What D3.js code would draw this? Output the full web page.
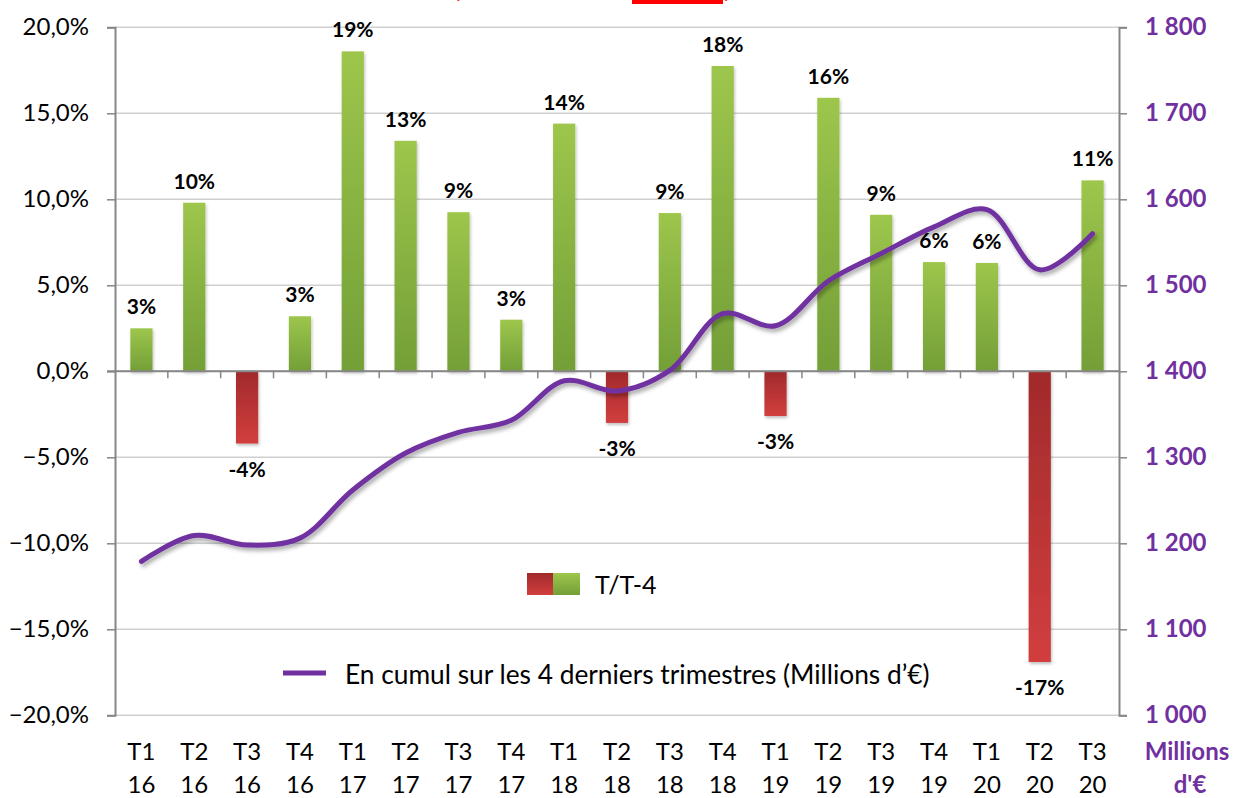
<!DOCTYPE html>
<html>
<head>
<meta charset="utf-8">
<script src="https://cdn.jsdelivr.net/npm/d3@7"></script>
<style>
  body { margin: 0; background: #fff; }
  svg text { font-family: Lato, "Open Sans", sans-serif; }
</style>
</head>
<body>
<div id="chart"></div>
<script>
// quarters (two-line labels)
var quarters = ["T1","T2","T3","T4","T1","T2","T3","T4","T1","T2","T3","T4","T1","T2","T3","T4","T1","T2","T3"];
var years    = ["16","16","16","16","17","17","17","17","18","18","18","18","19","19","19","19","20","20","20"];

// T/T-4 variation, %
var yoy = [2.5, 9.8, -4.2, 3.2, 18.6, 13.4, 9.25, 3.0, 14.4, -3.0, 9.2, 17.75, -2.6, 15.9, 9.1, 6.35, 6.3, -16.9, 11.1];

// cumul sur 4 trimestres, millions d'euros
var cumul = [1179, 1209, 1198, 1206, 1262, 1305, 1329, 1343, 1389, 1377, 1401, 1467, 1453, 1505, 1537, 1568, 1588, 1518, 1560];

var leftTicks = [-20, -15, -10, -5, 0, 5, 10, 15, 20];
var rightTicks = [1000, 1100, 1200, 1300, 1400, 1500, 1600, 1700, 1800];

var W = 1234, H = 798;
var x0 = 115, x1 = 1119, yTop = 27.3, yBot = 715.3;
var purple = "#7030A0";

var loc = d3.formatLocale({decimal: ",", thousands: "\u00a0", grouping: [3], currency: ["", "€"]});
var fmtPct = loc.format(".1f");
var fmtNum = loc.format(",d");

var svg = d3.select("#chart").append("svg")
  .attr("width", W).attr("height", H);

var defs = svg.append("defs");

var gGreen = defs.append("linearGradient").attr("id", "gGreen")
  .attr("x1", 0).attr("y1", 0).attr("x2", 0).attr("y2", 1);
gGreen.append("stop").attr("offset", "0%").attr("stop-color", "#9DC64C");
gGreen.append("stop").attr("offset", "100%").attr("stop-color", "#739F37");

var gRed = defs.append("linearGradient").attr("id", "gRed")
  .attr("x1", 0).attr("y1", 0).attr("x2", 0).attr("y2", 1);
gRed.append("stop").attr("offset", "0%").attr("stop-color", "#A12A2B");
gRed.append("stop").attr("offset", "100%").attr("stop-color", "#D23E3E");

var shLine = defs.append("filter").attr("id", "shLine")
  .attr("x", "-10%").attr("y", "-10%").attr("width", "120%").attr("height", "130%");
shLine.append("feDropShadow").attr("dx", 2).attr("dy", 3).attr("stdDeviation", 2)
  .attr("flood-color", "#000").attr("flood-opacity", 0.35);

var shBar = defs.append("filter").attr("id", "shBar")
  .attr("x", "-30%").attr("y", "-10%").attr("width", "160%").attr("height", "120%");
shBar.append("feDropShadow").attr("dx", 1).attr("dy", 2).attr("stdDeviation", 1.5)
  .attr("flood-color", "#000").attr("flood-opacity", 0.25);

// scales
var x = d3.scaleBand().domain(d3.range(quarters.length))
  .range([x0, x1]).paddingInner(0.58).paddingOuter(0.29);
var y = d3.scaleLinear().domain([-20, 20]).range([yBot, yTop]);
var y2 = d3.scaleLinear().domain([1000, 1800]).range([yBot, yTop]);
var step = x.step();
var pad = (step - x.bandwidth()) / 2;

// red title remnant at top (cut off in the source too)
svg.append("rect").attr("x", 632).attr("y", 0).attr("width", 91).attr("height", 4).attr("fill", "#FF0000");
svg.append("text").attr("x", 453).attr("y", -3).attr("font-size", 28).attr("fill", "#FF0000").text("(");
svg.append("text").attr("x", 724).attr("y", -3).attr("font-size", 28).attr("fill", "#FF0000").text(")");

// gridlines
svg.append("g").selectAll("line").data(leftTicks).join("line")
  .attr("x1", x0).attr("x2", x1)
  .attr("y1", function(d){ return y(d); }).attr("y2", function(d){ return y(d); })
  .attr("stroke", "#D0D0D0").attr("stroke-width", 1.5);

// left axis
var la = svg.append("g").attr("transform", "translate(" + x0 + ",0)")
  .call(d3.axisLeft(y).tickValues(leftTicks).tickSize(8).tickPadding(18)
    .tickFormat(function(d){ return fmtPct(d) + "%"; }));
la.select(".domain").attr("stroke", "#868686").attr("stroke-width", 2);
la.selectAll(".tick line").attr("stroke", "#868686").attr("stroke-width", 1.5);
la.selectAll(".tick text").attr("font-size", 24).attr("fill", "#000")
  .attr("font-family", "Lato, sans-serif");

// right axis
var ra = svg.append("g").attr("transform", "translate(" + x1 + ",0)")
  .call(d3.axisRight(y2).tickValues(rightTicks).tickSize(8).tickPadding(18)
    .tickFormat(function(d){ return fmtNum(d); }));
ra.select(".domain").attr("stroke", "#868686").attr("stroke-width", 2);
ra.selectAll(".tick line").attr("stroke", "#868686").attr("stroke-width", 1.5);
ra.selectAll(".tick text").attr("font-size", 24).attr("font-weight", "bold").attr("fill", purple)
  .attr("font-family", "Lato, sans-serif");

// bars
svg.append("g").selectAll("rect").data(yoy).join("rect")
  .attr("x", function(d, i){ return x(i); })
  .attr("width", x.bandwidth())
  .attr("y", function(d){ return y(Math.max(0, d)); })
  .attr("height", function(d){ return Math.abs(y(d) - y(0)); })
  .attr("fill", function(d){ return d < 0 ? "url(#gRed)" : "url(#gGreen)"; })
  .attr("filter", "url(#shBar)");

// category axis at zero
svg.append("line").attr("x1", x0 - 8).attr("x2", x1)
  .attr("y1", y(0)).attr("y2", y(0))
  .attr("stroke", "#868686").attr("stroke-width", 2);
svg.append("g").selectAll("line").data(d3.range(1, quarters.length)).join("line")
  .attr("x1", function(i){ return x(i) - pad; }).attr("x2", function(i){ return x(i) - pad; })
  .attr("y1", y(0)).attr("y2", y(0) + 7)
  .attr("stroke", "#868686").attr("stroke-width", 1.5);

// line
var line = d3.line()
  .x(function(d, i){ return x(i) + x.bandwidth() / 2; })
  .y(function(d){ return y2(d); })
  .curve(d3.curveCatmullRom.alpha(0.5));
svg.append("path").datum(cumul)
  .attr("d", line)
  .attr("fill", "none").attr("stroke", purple).attr("stroke-width", 5)
  .attr("stroke-linecap", "round")
  .attr("filter", "url(#shLine)");

// bar labels
svg.append("g").selectAll("text").data(yoy).join("text")
  .attr("x", function(d, i){ return x(i) + x.bandwidth() / 2; })
  .attr("y", function(d){ return d < 0 ? y(d) + 33 : y(d) - 14; })
  .attr("text-anchor", "middle")
  .attr("font-size", 21).attr("font-weight", "bold").attr("fill", "#000")
  .text(function(d){ return Math.round(d) + "%"; });

// category labels
var cat = svg.append("g").selectAll("g").data(quarters).join("g")
  .attr("transform", function(d, i){ return "translate(" + (x(i) + x.bandwidth() / 2) + ",0)"; });
cat.append("text").attr("y", 760).attr("text-anchor", "middle")
  .attr("font-size", 24).attr("fill", "#000").text(function(d){ return d; });
cat.append("text").attr("y", 793).attr("text-anchor", "middle")
  .attr("font-size", 24).attr("fill", "#000").text(function(d, i){ return years[i]; });

// right unit label
svg.append("text").attr("x", 1187).attr("y", 760).attr("text-anchor", "middle")
  .attr("font-size", 24).attr("font-weight", "bold").attr("fill", purple).text("Millions");
svg.append("text").attr("x", 1190).attr("y", 793).attr("text-anchor", "middle")
  .attr("font-size", 24).attr("font-weight", "bold").attr("fill", purple).text("d'€");

// legend
var lg = svg.append("g");
lg.append("rect").attr("x", 527).attr("y", 573).attr("width", 26).attr("height", 22).attr("fill", "url(#gRed)");
lg.append("rect").attr("x", 553).attr("y", 573).attr("width", 27).attr("height", 22).attr("fill", "url(#gGreen)");
lg.append("text").attr("x", 595).attr("y", 594).attr("font-size", 25).attr("fill", "#000").text("T/T-4");
lg.append("line").attr("x1", 283).attr("x2", 326).attr("y1", 673).attr("y2", 673)
  .attr("stroke", purple).attr("stroke-width", 5);
lg.append("text").attr("x", 345).attr("y", 684).attr("font-size", 26.3).attr("fill", "#000")
  .text("En cumul sur les 4 derniers trimestres (Millions d’€)");
</script>
</body>
</html>
